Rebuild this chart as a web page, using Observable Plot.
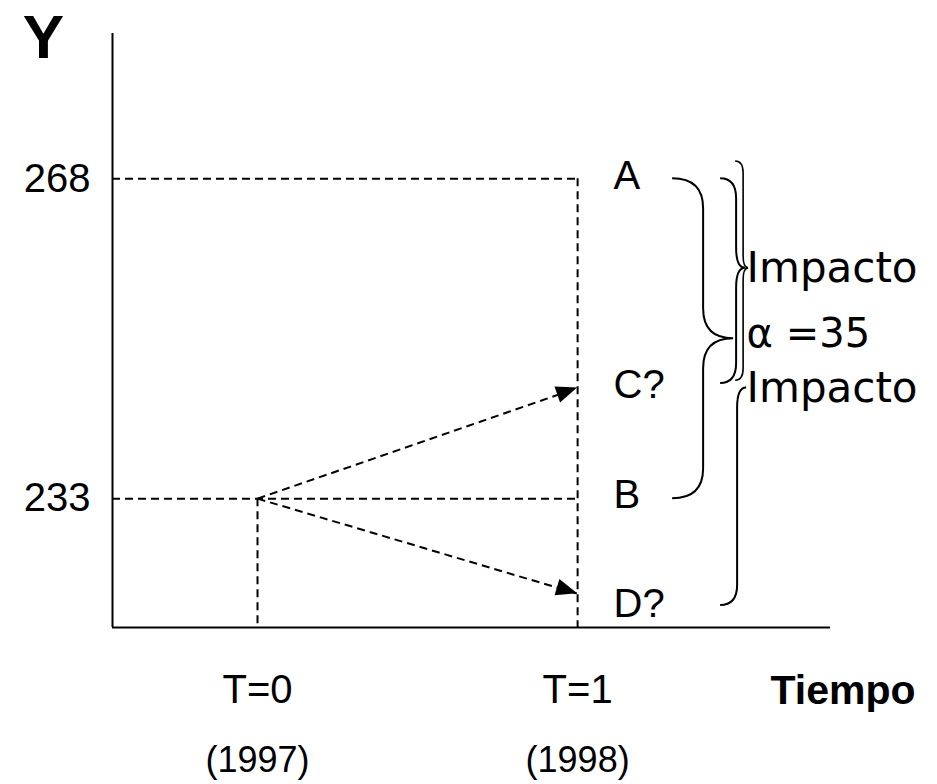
<!DOCTYPE html>
<html>
<head>
<meta charset="utf-8">
<script src="https://cdn.jsdelivr.net/npm/d3@7"></script>
<script src="https://cdn.jsdelivr.net/npm/@observablehq/plot@0.6"></script>
<style>
  html, body { margin: 0; padding: 0; background: #fff; }
</style>
</head>
<body>
<div id="chart"></div>
<script>
// ---- data ----
const times = [0, 1];
const timeLabels = ["T=0", "T=1"];
const yearLabels = ["(1997)", "(1998)"];
const yTicks = [233, 268];
const outcomeLabels = ["A", "C?", "B", "D?"];
const outcomeValues = [268, 245.1, 233, 222.6];
const originValue = 233;
const arrowTargets = [245.1, 222.6];
const alphaLabel = "α =35";
const impactLabels = ["Impacto", "Impacto"];
const impactValues = [258.2, 245.1];
const braceTops = [268, 268, 269.9, 245.1];
const braceTips = [250.5, 258.2, 258.2, 245.1];
const braceBottoms = [233, 245.6, 245.9, 221.3];
const xDomain = [-0.453, 1.79];
const yDomain = [218.9, 283.9];

// ---- styling (pixel geometry of the braces, relative to T=1) ----
const braceStyle = [
  {x0: 95, xs: 126, xt: 156, r: 30},
  {x0: 143, xs: 159, xt: 168, r: 20},
  {x0: 158, xs: 166, xt: 171, r: 12},
  {x0: 143, xs: 160, xt: 169, r: 20}
];
const dash = "8,5";
const FONT = "Liberation Sans, Arial, sans-serif";

const xMin = xDomain[0], xMax = xDomain[1], yMin = yDomain[0], yMax = yDomain[1];

function bracesAndHeads(index, scales) {
  const {x, y} = scales;
  const g = d3.create("svg:g");
  const bx = x(1);
  braceTops.forEach((top, i) => {
    const s = braceStyle[i];
    const x0 = bx + s.x0, xs = bx + s.xs, xt = bx + s.xt;
    const y1 = y(top), ym = y(braceTips[i]), y2 = y(braceBottoms[i]);
    const rt = Math.min(s.r, (ym - y1) / 2), rb = Math.min(s.r, (y2 - ym) / 2);
    const p = d3.path();
    if (ym - y1 > 2) {
      p.moveTo(x0, y1);
      p.quadraticCurveTo(xs, y1, xs, y1 + rt);
      p.lineTo(xs, ym - rt);
      p.quadraticCurveTo(xs, ym, xt, ym);
    } else {
      p.moveTo(xt, ym);
    }
    p.quadraticCurveTo(xs, ym, xs, ym + rb);
    p.lineTo(xs, y2 - rb);
    p.quadraticCurveTo(xs, y2, x0, y2);
    g.append("path").attr("d", p.toString())
      .attr("fill", "none").attr("stroke", "#000")
      .attr("stroke-width", i === 2 ? 1.6 : 2);
  });
  // filled arrow heads
  const sx = x(times[0]), sy = y(originValue);
  arrowTargets.forEach(v => {
    const ex = x(times[1]), ey = y(v);
    const dx = ex - sx, dy = ey - sy, len = Math.hypot(dx, dy);
    const ux = dx / len, uy = dy / len, nx = -uy, ny = ux;
    const L = 21, W = 8.5;
    const bxp = ex - ux * L, byp = ey - uy * L;
    g.append("path")
      .attr("d", `M${ex},${ey}L${bxp + nx * W},${byp + ny * W}L${bxp - nx * W},${byp - ny * W}Z`)
      .attr("fill", "#000");
  });
  return g.node();
}

const chart = Plot.plot({
  width: 937,
  height: 784,
  marginLeft: 112,
  marginRight: 107,
  marginTop: 33,
  marginBottom: 157,
  x: {domain: xDomain, axis: null},
  y: {domain: yDomain, axis: null},
  style: {background: "#fff", fontFamily: FONT, color: "#000", overflow: "visible"},
  marks: [
    // axes lines
    Plot.ruleX([xMin], {y1: yMin, y2: yMax, stroke: "#000", strokeWidth: 2}),
    Plot.ruleY([yMin], {x1: xMin, x2: xMax, stroke: "#000", strokeWidth: 2}),
    // dashed guide lines
    Plot.ruleY(yTicks, {x1: xMin, x2: times[1], stroke: "#000", strokeWidth: 2, strokeDasharray: dash}),
    Plot.ruleX([times[0]], {y1: originValue, y2: yMin, stroke: "#000", strokeWidth: 2, strokeDasharray: dash}),
    Plot.ruleX([times[1]], {y1: yTicks[1], y2: yMin, stroke: "#000", strokeWidth: 2, strokeDasharray: dash}),
    // dashed arrows
    Plot.link(arrowTargets, {x1: () => times[0], y1: () => originValue, x2: () => times[1], y2: d => d,
      stroke: "#000", strokeWidth: 2, strokeDasharray: dash}),
    bracesAndHeads,
    // y tick labels
    Plot.text(yTicks, {x: () => xMin, y: d => d, text: d => String(d), dx: -22, textAnchor: "end",
      fontSize: 40, fill: "#000"}),
    // Y title
    Plot.text(["Y"], {x: () => xMin, y: () => yMax, dx: -69, dy: 5, fontSize: 62, fontWeight: "bold", fill: "#000"}),
    // time labels
    Plot.text(times, {x: d => d, y: () => yMin, text: (d, i) => timeLabels[i], dy: 63, fontSize: 40, fill: "#000"}),
    Plot.text(times, {x: d => d, y: () => yMin, text: (d, i) => yearLabels[i], dy: 133, fontSize: 36, fill: "#000"}),
    Plot.text(["Tiempo"], {x: () => xMax, y: () => yMin, dx: -60, dy: 63, textAnchor: "start",
      fontSize: 41, fontWeight: "bold", fill: "#000"}),
    // outcome labels
    Plot.text(outcomeValues.slice(0, 3), {x: () => times[1], y: d => d, text: (d, i) => outcomeLabels[i],
      dx: 36, dy: -3, textAnchor: "start", fontSize: 40, fill: "#000"}),
    Plot.text(outcomeValues.slice(3), {x: () => times[1], y: d => d, text: (d, i) => outcomeLabels[3 + i],
      dx: 36, dy: 10, textAnchor: "start", fontSize: 40, fill: "#000"}),
    // impact labels
    Plot.text(impactValues, {x: () => times[1], y: d => d, text: (d, i) => impactLabels[i],
      dx: 169, textAnchor: "start", fontSize: 42, fontFamily: "DejaVu Sans", fill: "#000"}),
    Plot.text([alphaLabel], {x: () => times[1], y: () => (outcomeValues[0] + outcomeValues[2]) / 2,
      dx: 169, dy: -5, textAnchor: "start", fontSize: 40, fontFamily: "DejaVu Sans", fill: "#000"})
  ]
});
document.getElementById("chart").appendChild(chart);
</script>
</body>
</html>
